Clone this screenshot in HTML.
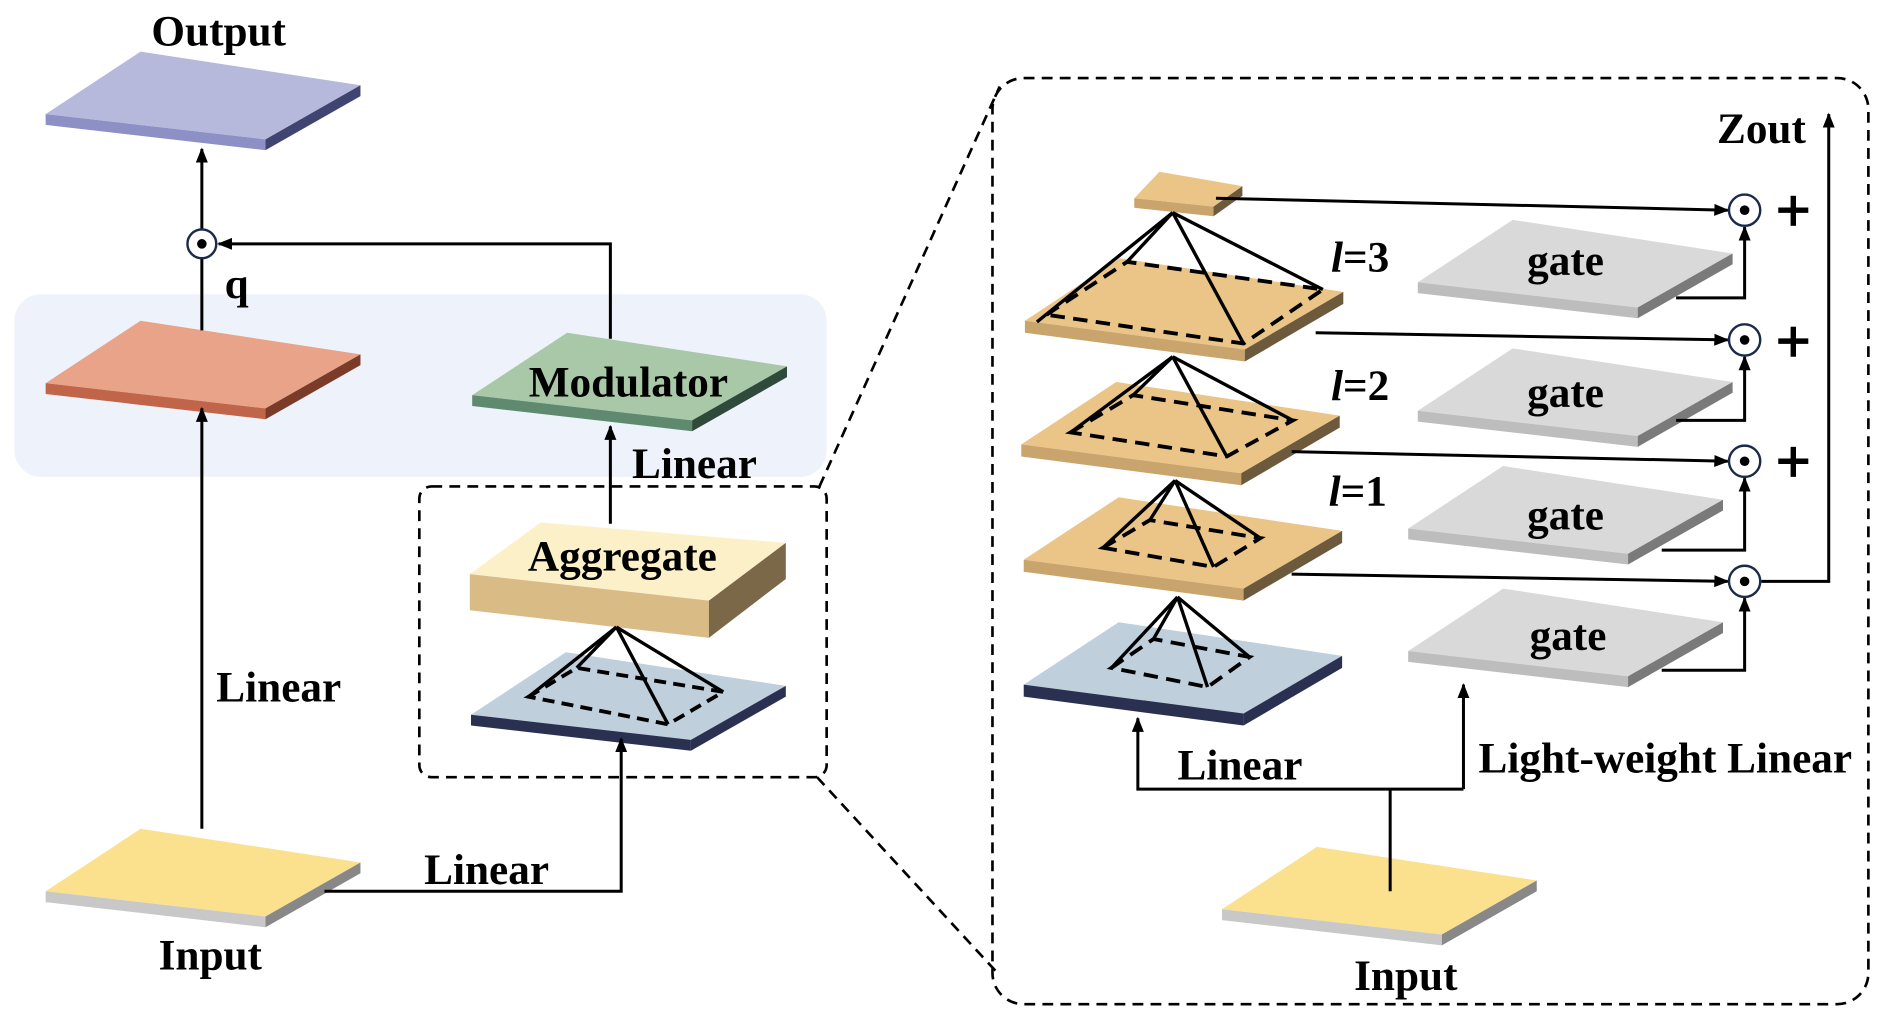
<!DOCTYPE html>
<html><head><meta charset="utf-8"><style>
html,body{margin:0;padding:0;background:#fff;}
svg{display:block;}
text{font-family:"Liberation Serif",serif;font-weight:bold;fill:#000;}
</style></head><body>
<svg width="1884" height="1021" viewBox="0 0 1568 850" preserveAspectRatio="none" xmlns="http://www.w3.org/2000/svg">
<defs>
<marker id="ar" viewBox="0 0 10 10" refX="9" refY="5" markerWidth="5" markerHeight="5" orient="auto"><path d="M0,1 L10,5 L0,9 Z" fill="#000"/></marker>
</defs>
<rect x="12" y="245" width="676" height="152" rx="22" fill="#eef2fa"/>
<rect x="349" y="405" width="339" height="242" rx="10" fill="none" stroke="#000" stroke-width="2.2" stroke-dasharray="9,6"/>
<rect x="826" y="65" width="729" height="771" rx="26" fill="none" stroke="#000" stroke-width="2.2" stroke-dasharray="9,6"/>
<line x1="682" y1="405" x2="832" y2="72" stroke="#000" stroke-width="2.2" stroke-dasharray="9,6"/>
<line x1="680" y1="647" x2="832" y2="812" stroke="#000" stroke-width="2.2" stroke-dasharray="9,6"/>

<g transform="translate(38,43)">
<polygon points="0,52 79,0 262,28 183,73" fill="#b6b8dc"/><polygon points="0,52 183,73 183,82 0,61" fill="#8c90c4"/><polygon points="183,73 262,28 262,37 183,82" fill="#3f4470"/></g>
<g transform="translate(38,267)">
<polygon points="0,52 79,0 262,28 183,73" fill="#e8a388"/><polygon points="0,52 183,73 183,82 0,61" fill="#c0654a"/><polygon points="183,73 262,28 262,37 183,82" fill="#7a3b28"/></g>
<g transform="translate(393,277)">
<polygon points="0,52 79,0 262,28 183,73" fill="#a8c8a8"/><polygon points="0,52 183,73 183,82 0,61" fill="#5f8a70"/><polygon points="183,73 262,28 262,37 183,82" fill="#2f4a3a"/></g>
<polygon points="391,478 450,435 654,452 590,500" fill="#fbf0c8"/>
<polygon points="391,478 590,500 590,531 391,508" fill="#d9bb85"/>
<polygon points="590,500 654,452 654,482 590,531" fill="#7a6848"/>
<g transform="translate(392,543)">
<polygon points="0,52 79,0 262,28 183,73" fill="#bfcfdc"/><polygon points="0,52 183,73 183,82 0,61" fill="#2a3050"/><polygon points="183,73 262,28 262,37 183,82" fill="#2a3050"/></g>
<polygon points="440,580 480,556 602,576 556,603" fill="none" stroke="#000" stroke-width="3.2" stroke-dasharray="10,6"/>
<g stroke="#000" stroke-width="2.8"><line x1="513" y1="522" x2="440" y2="580"/><line x1="513" y1="522" x2="480" y2="556"/><line x1="513" y1="522" x2="602" y2="576"/><line x1="513" y1="522" x2="556" y2="603"/></g>
<g transform="translate(38,690)">
<polygon points="0,52 79,0 262,28 183,73" fill="#fbe08e"/><polygon points="0,52 183,73 183,82 0,61" fill="#c8c8c8"/><polygon points="183,73 262,28 262,37 183,82" fill="#888"/></g>

<g stroke="#000" stroke-width="2.5" fill="none">
<line x1="168" y1="690" x2="168" y2="340" marker-end="url(#ar)"/>
<line x1="168" y1="275" x2="168" y2="215"/>
<line x1="168" y1="191" x2="168" y2="124" marker-end="url(#ar)"/>
<polyline points="508,282 508,203 182,203" marker-end="url(#ar)"/>
<line x1="508" y1="436" x2="508" y2="355" marker-end="url(#ar)"/>
<polyline points="270,742 517,742 517,615" marker-end="url(#ar)"/>
</g>
<circle cx="168" cy="203" r="12" fill="#fff" stroke="#1a2a4a" stroke-width="2"/><circle cx="168" cy="203" r="4" fill="#000"/>

<text x="182" y="38" font-size="36" text-anchor="middle">Output</text>
<text x="197" y="248" font-size="36" text-anchor="middle">q</text>
<text x="523" y="330" font-size="36" text-anchor="middle">Modulator</text>
<text x="578" y="398" font-size="36" text-anchor="middle">Linear</text>
<text x="518" y="475" font-size="36" text-anchor="middle">Aggregate</text>
<text x="232" y="584" font-size="36" text-anchor="middle">Linear</text>
<text x="405" y="736" font-size="36" text-anchor="middle">Linear</text>
<text x="175" y="807" font-size="36" text-anchor="middle">Input</text>

<polygon points="944,165 965,143 1034,155 1010,172" fill="#ebc587"/>
<polygon points="944,165 1010,172 1010,180 944,173" fill="#c9a46c"/>
<polygon points="1010,172 1034,155 1034,163 1010,180" fill="#6d5a3c"/>

<g transform="translate(853,215)">
<polygon points="0,52 79,0 265,28 183,76" fill="#ebc587"/><polygon points="0,52 183,76 183,86 0,62" fill="#c9a46c"/><polygon points="183,76 265,28 265,38 183,86" fill="#6d5a3c"/></g>
<g transform="translate(850,318)">
<polygon points="0,52 79,0 265,28 183,76" fill="#ebc587"/><polygon points="0,52 183,76 183,86 0,62" fill="#c9a46c"/><polygon points="183,76 265,28 265,38 183,86" fill="#6d5a3c"/></g>
<g transform="translate(852,414)">
<polygon points="0,52 79,0 265,28 183,76" fill="#ebc587"/><polygon points="0,52 183,76 183,86 0,62" fill="#c9a46c"/><polygon points="183,76 265,28 265,38 183,86" fill="#6d5a3c"/></g>
<g transform="translate(852,518)">
<polygon points="0,52 79,0 265,28 183,76" fill="#bfcfdc"/><polygon points="0,52 183,76 183,86 0,62" fill="#2a3050"/><polygon points="183,76 265,28 265,38 183,86" fill="#2a3050"/></g>

<g stroke="#000" stroke-width="3.2" fill="none" stroke-dasharray="12,7">
<polygon points="871,262 938,218 1101,241 1035,286"/>
<polygon points="891,360 943,329 1076,350 1021,380"/>
<polygon points="918,456 957,433 1049,448 1010,472"/>
<polygon points="925,556 960,532 1040,547 1005,572"/>
</g>
<g stroke="#000" stroke-width="2.8">
<line x1="976" y1="177" x2="863" y2="268"/><line x1="976" y1="177" x2="938" y2="218"/><line x1="976" y1="177" x2="1101" y2="241"/><line x1="976" y1="177" x2="1035" y2="286"/>
<line x1="976" y1="297" x2="891" y2="360"/><line x1="976" y1="297" x2="943" y2="329"/><line x1="976" y1="297" x2="1076" y2="350"/><line x1="976" y1="297" x2="1021" y2="380"/>
<line x1="978" y1="400" x2="918" y2="456"/><line x1="978" y1="400" x2="957" y2="433"/><line x1="978" y1="400" x2="1049" y2="448"/><line x1="978" y1="400" x2="1010" y2="472"/>
<line x1="980" y1="497" x2="925" y2="556"/><line x1="980" y1="497" x2="960" y2="532"/><line x1="980" y1="497" x2="1040" y2="547"/><line x1="980" y1="497" x2="1005" y2="572"/>
</g>

<g transform="translate(1180,183)"><polygon points="0,52 79,0 262,28 183,73" fill="#d9d9d9"/><polygon points="0,52 183,73 183,82 0,61" fill="#bdbdbd"/><polygon points="183,73 262,28 262,37 183,82" fill="#7a7a7a"/></g>
<g transform="translate(1180,290)"><polygon points="0,52 79,0 262,28 183,73" fill="#d9d9d9"/><polygon points="0,52 183,73 183,82 0,61" fill="#bdbdbd"/><polygon points="183,73 262,28 262,37 183,82" fill="#7a7a7a"/></g>
<g transform="translate(1172,388)"><polygon points="0,52 79,0 262,28 183,73" fill="#d9d9d9"/><polygon points="0,52 183,73 183,82 0,61" fill="#bdbdbd"/><polygon points="183,73 262,28 262,37 183,82" fill="#7a7a7a"/></g>
<g transform="translate(1172,490)"><polygon points="0,52 79,0 262,28 183,73" fill="#d9d9d9"/><polygon points="0,52 183,73 183,82 0,61" fill="#bdbdbd"/><polygon points="183,73 262,28 262,37 183,82" fill="#7a7a7a"/></g>
<g transform="translate(1017,705)"><polygon points="0,52 79,0 262,28 183,73" fill="#fbe08e"/><polygon points="0,52 183,73 183,82 0,61" fill="#c8c8c8"/><polygon points="183,73 262,28 262,37 183,82" fill="#888"/></g>

<g stroke="#000" stroke-width="2.5" fill="none">
<line x1="1012" y1="165" x2="1438" y2="175" marker-end="url(#ar)"/>
<line x1="1095" y1="277" x2="1438" y2="283" marker-end="url(#ar)"/>
<line x1="1075" y1="376" x2="1438" y2="384" marker-end="url(#ar)"/>
<line x1="1075" y1="478" x2="1438" y2="484" marker-end="url(#ar)"/>
<polyline points="1395,248 1452,248 1452,189" marker-end="url(#ar)"/>
<polyline points="1395,350 1452,350 1452,297" marker-end="url(#ar)"/>
<polyline points="1383,458 1452,458 1452,398" marker-end="url(#ar)"/>
<polyline points="1383,558 1452,558 1452,498" marker-end="url(#ar)"/>
<polyline points="1466,484 1522,484 1522,95" marker-end="url(#ar)"/>
<line x1="1157" y1="742" x2="1157" y2="657"/>
<polyline points="1218,657 947,657 947,598" marker-end="url(#ar)"/>
<line x1="1218" y1="657" x2="1218" y2="570" marker-end="url(#ar)"/>
</g>
<g fill="#fff" stroke="#1a2a4a" stroke-width="2">
<circle cx="1452" cy="175" r="13"/><circle cx="1452" cy="283" r="13"/><circle cx="1452" cy="384" r="13"/><circle cx="1452" cy="484" r="13"/></g>
<g fill="#000"><circle cx="1452" cy="175" r="4"/><circle cx="1452" cy="283" r="4"/><circle cx="1452" cy="384" r="4"/><circle cx="1452" cy="484" r="4"/></g>

<g stroke="#000" stroke-width="4.5">
<line x1="1480" y1="175" x2="1505" y2="175"/><line x1="1492.5" y1="163" x2="1492.5" y2="188"/>
<line x1="1480" y1="284" x2="1505" y2="284"/><line x1="1492.5" y1="272" x2="1492.5" y2="297"/>
<line x1="1480" y1="384" x2="1505" y2="384"/><line x1="1492.5" y1="372" x2="1492.5" y2="397"/>
</g>
<text x="1466" y="119" font-size="36" text-anchor="middle">Zout</text>
<text x="1132" y="226" font-size="36" text-anchor="middle"><tspan font-style="italic">l</tspan>=3</text>
<text x="1132" y="333" font-size="36" text-anchor="middle"><tspan font-style="italic">l</tspan>=2</text>
<text x="1130" y="421" font-size="36" text-anchor="middle"><tspan font-style="italic">l</tspan>=1</text>
<text x="1303" y="229" font-size="36" text-anchor="middle">gate</text>
<text x="1303" y="339" font-size="36" text-anchor="middle">gate</text>
<text x="1303" y="441" font-size="36" text-anchor="middle">gate</text>
<text x="1305" y="541" font-size="36" text-anchor="middle">gate</text>
<text x="1032" y="649" font-size="36" text-anchor="middle">Linear</text>
<text x="1386" y="643" font-size="36" text-anchor="middle">Light-weight Linear</text>
<text x="1170" y="824" font-size="36" text-anchor="middle">Input</text>
</svg>
</body></html>
